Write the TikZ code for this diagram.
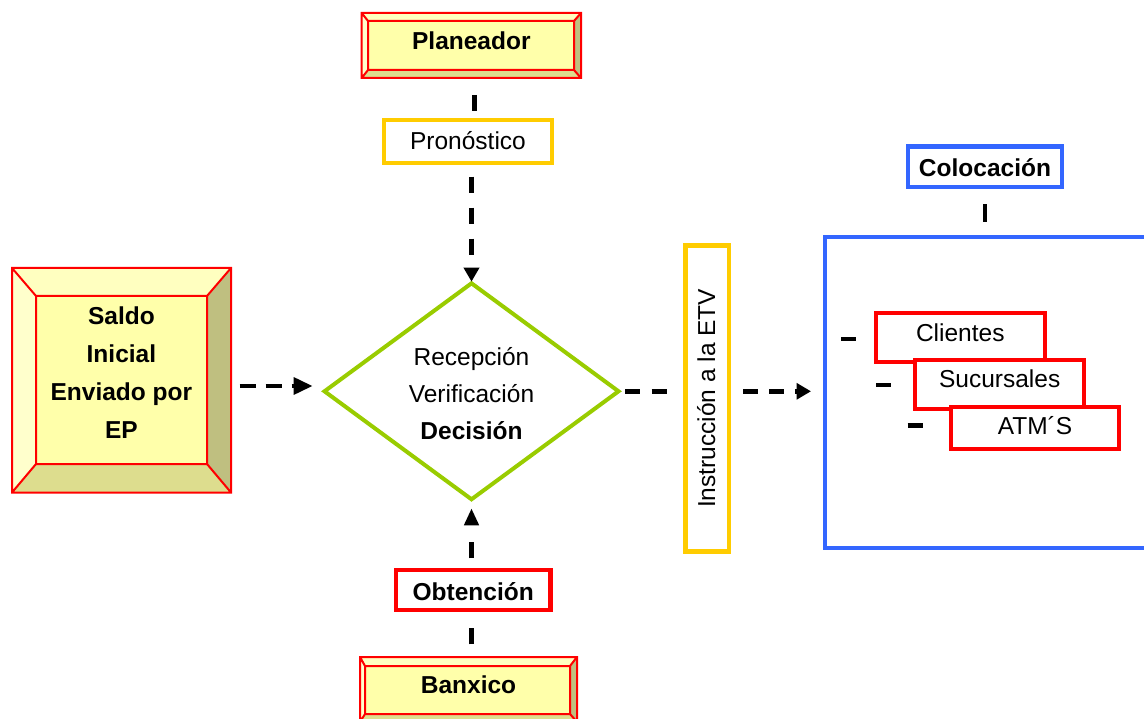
\documentclass[tikz,border=0pt]{standalone}
\usepackage{fontspec}
\setmainfont{Liberation Sans}
\usetikzlibrary{shapes.geometric,arrows.meta,calc}
\definecolor{ylw}{HTML}{FFCC00}
\definecolor{grn}{HTML}{99CC00}
\definecolor{blu}{HTML}{3366FF}
\definecolor{rd}{HTML}{FF0000}
\definecolor{bvface}{HTML}{FFFFAA}
\definecolor{bvtop}{HTML}{FFFFC0}
\definecolor{bvleft}{HTML}{FFFFCC}
\definecolor{bvright}{HTML}{BFBF80}
\definecolor{bvbottom}{HTML}{DDDD8E}
% x1 y1 x2 y2 left top right bottom
\newcommand\bevelbox[8]{%
  \fill[bvtop] (#1,#2) -- (#3,#2) -- (#3-#7,#2+#6) -- (#1+#5,#2+#6) -- cycle;
  \fill[bvright] (#3,#2) -- (#3,#4) -- (#3-#7,#4-#8) -- (#3-#7,#2+#6) -- cycle;
  \fill[bvbottom] (#1,#4) -- (#3,#4) -- (#3-#7,#4-#8) -- (#1+#5,#4-#8) -- cycle;
  \fill[bvleft] (#1,#2) -- (#1,#4) -- (#1+#5,#4-#8) -- (#1+#5,#2+#6) -- cycle;
  \fill[bvface] (#1+#5,#2+#6) rectangle (#3-#7,#4-#8);
  \draw[rd,line width=2pt,line join=miter]
    (#1,#2) rectangle (#3,#4)
    (#1+#5,#2+#6) rectangle (#3-#7,#4-#8)
    (#1,#2) -- (#1+#5,#2+#6)
    (#3,#2) -- (#3-#7,#2+#6)
    (#3,#4) -- (#3-#7,#4-#8)
    (#1,#4) -- (#1+#5,#4-#8);
}
\tikzset{
  bx/.style={inner sep=0pt, outer sep=0pt, line width=4.5pt, fill=white},
  ghost/.style={inner sep=0pt, outer sep=0pt},
  rtxt/.style={font=\fontsize{24.5pt}{30pt}\selectfont},
  btxt/.style={font=\fontsize{24.5pt}{30pt}\selectfont\bfseries},
  dl/.style={line width=4.5pt, black},
}
\begin{document}
\begin{tikzpicture}[x=1pt,y=-1pt]
\useasboundingbox (0,0) rectangle (1144,719);
\clip (0,0) rectangle (1144,719);

% ---------- bevel boxes ----------
\bevelbox{361.7}{13}{581}{78}{6.3}{8}{7}{8}
\node[ghost, btxt, minimum width=219.3pt, minimum height=65pt,
      text height=18pt, text depth=9pt] (plan) at (471.35,45.5) {Planeador};

\bevelbox{12}{268}{231}{492.5}{24}{28}{24}{28.5}
\node[ghost, minimum width=219pt, minimum height=224.5pt] (saldo) at (121.5,380.25) {};
\node[font=\fontsize{24.5pt}{37.8pt}\selectfont\bfseries, align=center]
      at (121.4,372.8) {Saldo\\Inicial\\Enviado por\\EP};

\bevelbox{360}{657}{577}{722}{5}{9}{7}{8}
\node[ghost, btxt, minimum width=217pt, minimum height=65pt,
      text height=18pt, text depth=10.4pt] (banx) at (468.5,689.5) {Banxico};

% ---------- plain boxes ----------
\node[bx, draw=ylw, rtxt, minimum width=168pt, minimum height=43pt,
      text height=17pt, text depth=0pt] (pron) at (468,141.5) {Pronóstico};
\node[bx, draw=rd, btxt, minimum width=154.5pt, minimum height=40pt,
      text height=20pt, text depth=0pt] (obt) at (473.25,590) {Obtención};
\node[bx, draw=blu, btxt, minimum width=154pt, minimum height=40.3pt,
      text height=19.8pt, text depth=0pt] (coloc) at (985,166.8) {Colocación};
\node[bx, draw=ylw, rtxt, rotate=90, minimum width=306pt, minimum height=43.3pt,
      text height=18pt, text depth=2.4pt] (instr) at (707.2,398.3) {Instrucción a la ETV};

% diamond
\node[diamond, draw=grn, line width=4pt, inner sep=0pt, outer sep=0pt,
      minimum width=294pt, minimum height=216pt] (dia) at (471.5,391.3) {};
\node[font=\fontsize{24.5pt}{36.8pt}\selectfont, align=center]
      at (471.5,393.5) {Recepción\\Verificación\\\textbf{Decisión}};

% big blue frame
\node[bx, draw=blu, line width=4pt, minimum width=334.7pt, minimum height=311pt]
      (blue) at (992.65,392.5) {};

% stacked red boxes
\node[bx, draw=rd, line width=4pt, rtxt, minimum width=168.7pt, minimum height=49.3pt,
      text height=18pt, text depth=9.2pt] (cli) at (960.3,337.3) {Clientes};
\node[bx, draw=rd, line width=4pt, rtxt, minimum width=168.7pt, minimum height=49pt,
      text height=18pt, text depth=10.4pt] (suc) at (999.7,384.2) {Sucursales};
\node[bx, draw=rd, line width=4pt, rtxt, minimum width=168.6pt, minimum height=42.6pt,
      text height=18pt, text depth=4pt] (atm) at (1035,428) {ATM´S};

% ---------- connectors ----------
\draw[dl, dash pattern=on 16pt off 20pt, shorten <=17pt, shorten >=9.3pt]
  ($(plan.south)+(3,0)$) -- ($(plan.south |- pron.north)+(3,0)$);

\draw[dl, dash pattern=on 16.5pt off 14.5pt, shorten <=13.7pt, shorten >=1.6pt,
      -{Triangle[length=14pt,width=15pt]}]
  (dia.north |- pron.south) -- (dia.north);

\draw[dl, dash pattern=on 16.6pt off 20pt, shorten <=11.7pt, shorten >=9pt,
      -{Triangle[length=17pt,width=14pt]}]
  (dia.south |- obt.north) -- (dia.south);

\draw[dl, dash pattern=on 16.6pt off 30pt, shorten <=12.7pt, shorten >=17pt]
  (dia.south |- banx.north) -- (dia.south |- obt.south);

\draw[dl, dash pattern=on 16pt off 10pt, shorten <=8.7pt, shorten >=11.8pt,
      -{Triangle[length=19pt,width=16.5pt]}]
  ($(saldo.east)+(0,5.75)$) -- ($(saldo.east -| dia.west)+(0,5.75)$);

\draw[dl, dash pattern=on 15pt off 11.7pt, shorten <=6.5pt, shorten >=18.8pt]
  (dia.east) -- (dia.east -| instr.north);

\draw[dl, dash pattern=on 15pt off 10.7pt, shorten <=14.5pt, shorten >=14.3pt,
      -{Triangle[length=14.3pt,width=15.7pt]}]
  (dia.east -| instr.south) -- (dia.east -| blue.west);

\draw[dl, dash pattern=on 18pt off 30pt, shorten <=17.3pt, shorten >=14pt]
  (coloc.south) -- (coloc.south |- blue.north);

\coordinate (d1) at (841,339);
\coordinate (d2) at (876,385);
\coordinate (d3) at (907.7,425.3);
\draw[dl, shorten >=20.3pt] (d1) -- (d1 -| cli.west);
\draw[dl, shorten >=24.3pt] (d2) -- (d2 -| suc.west);
\draw[dl, shorten >=28pt] (d3) -- (d3 -| atm.west);
\end{tikzpicture}
\end{document}
